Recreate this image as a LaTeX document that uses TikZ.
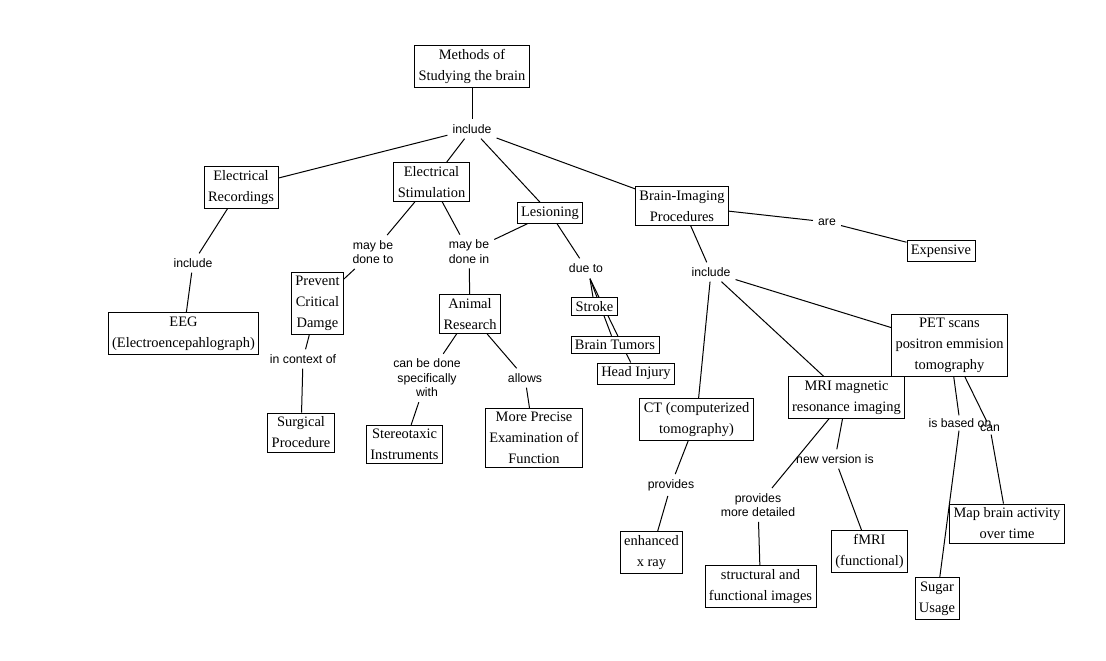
\documentclass[tikz,border=0pt]{standalone}
\usepackage{fontspec}
\setmainfont{Liberation Serif}
\newfontfamily\lblfont{Liberation Sans}
\pgfdeclarelayer{bg}
\pgfsetlayers{bg,main}
\begin{document}
\tikzset{
  concept/.style={draw, fill=white, line width=0.8bp, align=center, inner xsep=4bp, inner ysep=4bp,
    font=\fontsize{14.5}{21}\selectfont},
  lbl/.style={align=center, inner sep=5bp, font=\lblfont\fontsize{12.3}{14.5}\selectfont},
  link/.style={line width=1bp},
}
\begin{tikzpicture}[x=1bp,y=-1bp]
\useasboundingbox (0,0) rectangle (1106,661);

% concepts
\node[concept] (m)    at (472,66.5)  {Methods of\\Studying the brain};
\node[concept] (er)   at (241,187.5) {Electrical\\Recordings};
\node[concept] (es)   at (431.5,182) {Electrical\\Stimulation};
\node[concept] (les)  at (550,213)   {Lesioning};
\node[concept] (bi)   at (682,206)   {Brain-Imaging\\Procedures};
\node[concept] (exp)  at (941,251)   {Expensive};
\node[concept] (eeg)  at (183.5,333.5) {EEG\\(Electroencepahlograph)};
\node[concept] (pcd)  at (317.5,303.5) {Prevent\\Critical\\Damge};
\node[concept] (sp)   at (301,432.5) {Surgical\\Procedure};
\node[concept] (ar)   at (470,314)   {Animal\\Research};
\node[concept] (si)   at (404.5,444.5) {Stereotaxic\\Instruments};
\node[concept] (mp)   at (534,438)   {More Precise\\Examination of\\Function};
\node[concept] (str)  at (594.5,306.5) {Stroke};
\node[concept] (bt)   at (615,345)   {Brain Tumors};
\node[concept] (hi)   at (636,373.5) {Head Injury};
\node[concept] (pet)  at (949.5,345.5) {PET scans\\positron emmision\\tomography};
\node[concept] (mri)  at (846.5,397.5) {MRI magnetic\\resonance imaging};
\node[concept] (ct)   at (696.5,419.5) {CT (computerized\\tomography)};
\node[concept] (ex)   at (651.5,552.5) {enhanced\\x ray};
\node[concept] (sf)   at (760.5,586.5) {structural and\\functional images};
\node[concept] (fmri) at (869.5,551.5) {fMRI\\(functional)};
\node[concept] (su)   at (937,598.5) {Sugar\\Usage};
\node[concept] (map)  at (1007,523.5) {Map brain activity\\over time};

% linking phrases
\node[lbl] (inc1) at (472,129) {include};
\node[lbl] (inc2) at (193,263) {include};
\node[lbl] (mbdt) at (373,252) {may be\\done to};
\node[lbl] (mbdi) at (469,251.5) {may be\\done in};
\node[lbl] (due)  at (586,268) {due to};
\node[lbl] (are)  at (827,222) {are};
\node[lbl] (inc3) at (711,272) {include};
\node[lbl] (ico)  at (303,359) {in context of};
\node[lbl] (cbd)  at (427,378) {can be done\\specifically\\with};
\node[lbl] (alw)  at (525,378) {allows};
\node[lbl] (prv)  at (671,485) {provides};
\node[lbl] (pmd)  at (758,505) {provides\\more detailed};
\node[lbl] (nvi)  at (835,459) {new version is};
\node[lbl,inner sep=3bp] (ibo)  at (960,423) {is based on};
\node[lbl,inner sep=3bp] (can)  at (990,428) {can};

\coordinate (dj) at ([xshift=4bp,yshift=-1bp]due.south);

\begin{pgfonlayer}{bg}
\fill[white] (0,0) rectangle (1106,661);
\draw[link] (m) -- (inc1);
\draw[link] (inc1) -- (er);
\draw[link] (inc1) -- (es);
\draw[link] (inc1) -- (les);
\draw[link] (inc1) -- (bi);
\draw[link] (er) -- (inc2);
\draw[link] (inc2) -- (eeg);
\draw[link] (es) -- (mbdt);
\draw[link] (mbdt) -- (pcd);
\draw[link] (es) -- (mbdi);
\draw[link] (les) -- (mbdi);
\draw[link] (mbdi) -- (ar);
\draw[link] (pcd) -- (ico);
\draw[link] (ico) -- (sp);
\draw[link] (ar) -- (cbd);
\draw[link] (cbd) -- (si);
\draw[link] (ar) -- (alw);
\draw[link] (alw) -- (mp);
\draw[link] (les) -- (due);
\draw[link] (dj) -- (str);
\draw[link] (dj) -- (bt);
\draw[link] (dj) -- (hi);
\draw[link] (bi) -- (are);
\draw[link] (are) -- (exp);
\draw[link] (bi) -- (inc3);
\draw[link] (inc3) -- (ct);
\draw[link] (inc3) -- (mri);
\draw[link] (inc3) -- (pet);
\draw[link] (ct) -- (prv);
\draw[link] (prv) -- (ex);
\draw[link] (mri) -- (pmd);
\draw[link] (pmd) -- (sf);
\draw[link] (mri) -- (nvi);
\draw[link] (nvi) -- (fmri);
\draw[link] (pet) -- (ibo);
\draw[link] (pet) -- (can);
\draw[link] (can) -- (map);
\end{pgfonlayer}
\draw[link] (ibo) -- (su);
\end{tikzpicture}
\end{document}
